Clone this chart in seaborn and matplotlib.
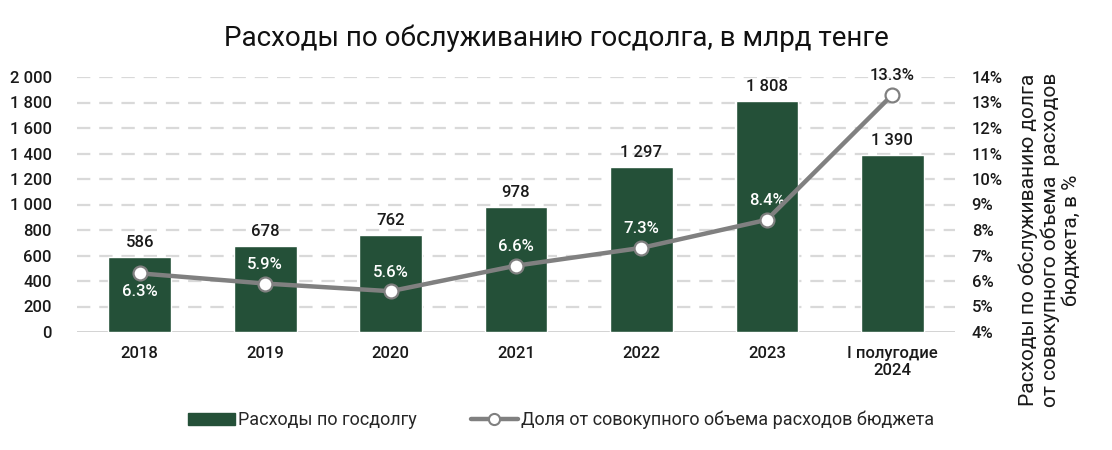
import numpy as np
import pandas as pd
import matplotlib
matplotlib.use("Agg")
import matplotlib.pyplot as plt
import seaborn as sns
from matplotlib.lines import Line2D
from matplotlib.patches import Patch

categories = ["2018", "2019", "2020", "2021", "2022", "2023", "I полугодие\n2024"]
spending = [586, 678, 762, 978, 1297, 1808, 1390]
share_pct = [6.3, 5.9, 5.6, 6.6, 7.3, 8.4, 13.3]
spending_labels = ["586", "678", "762", "978", "1 297", "1 808", "1 390"]
left_ticks = [0, 200, 400, 600, 800, 1000, 1200, 1400, 1600, 1800, 2000]
left_tick_labels = ["0", "200", "400", "600", "800", "1 000", "1 200", "1 400", "1 600", "1 800", "2 000"]
right_ticks = [4, 5, 6, 7, 8, 9, 10, 11, 12, 13, 14]

sns.set_theme(style="white")
plt.rcParams['font.family'] = ['Roboto', 'DejaVu Sans']

BAR = "#245038"
LINE = "#808080"

fig = plt.figure(figsize=(11.12, 4.5), dpi=100)
ax = fig.add_axes([77/1112, 1 - 332/450, (955-77)/1112, (332-77)/450])

df = pd.DataFrame({"cat": categories, "val": spending})
sns.barplot(data=df, x="cat", y="val", color=BAR, width=0.5, ax=ax, saturation=1, zorder=2)
ax.set_xlim(-0.5, 6.5)
ax.set_ylim(0, 2000)
ax.set_yticks(left_ticks)
ax.set_yticklabels(left_tick_labels)
ax.set_xlabel("")
ax.set_ylabel("")
for t in left_ticks[1:]:
    ax.axhline(t, color="#d9d9d9", lw=1.6, ls=(0, (6, 4)), zorder=0)
ax.axhline(0, color="#d0d0d0", lw=1.3, zorder=1)
for s in ax.spines.values():
    s.set_visible(False)
ax.tick_params(axis="y", length=0, pad=18, labelsize=12, labelcolor="#1a1a1a")
ax.tick_params(axis="x", length=0, pad=10, labelsize=12, labelcolor="#1a1a1a")
for lab in ax.get_yticklabels():
    lab.set_fontweight("medium")
for lab in ax.get_xticklabels():
    lab.set_fontweight("medium")

for i, v in enumerate(spending):
    ax.text(i, v + 55, spending_labels[i], ha="center", va="bottom", fontsize=12,
            fontweight="medium", color="#1a1a1a")

ax2 = ax.twinx()
sns.lineplot(x=np.arange(len(share_pct)), y=share_pct, ax=ax2, color=LINE, lw=3.2,
             marker="o", markersize=10, markerfacecolor="white", markeredgecolor=LINE,
             markeredgewidth=1.6, zorder=5)
ax2.set_ylim(4, 14)
ax2.set_yticks(right_ticks)
ax2.set_yticklabels([f"{t}%" for t in right_ticks])
ax2.tick_params(axis="y", length=0, pad=12, labelsize=12, labelcolor="#1a1a1a")
for lab in ax2.get_yticklabels():
    lab.set_fontweight("medium")
for s in ax2.spines.values():
    s.set_visible(False)
ax2.set_xlim(-0.5, 6.5)

for i, p in enumerate(share_pct):
    lbl = f"{p}%"
    if i == 0:
        ax2.text(i, p - 0.4, lbl, ha="center", va="top", fontsize=12, color="white", fontweight="medium")
    elif i == len(share_pct) - 1:
        ax2.text(i, p + 0.45, lbl, ha="center", va="bottom", fontsize=12, color="#1a1a1a", fontweight="medium")
    else:
        ax2.text(i, p + 0.45, lbl, ha="center", va="bottom", fontsize=12, color="white", fontweight="medium")

fig.text(1050/1112, 1 - 240/450,
         "Расходы по обслуживанию долга\nот совокупного объема  расходов\nбюджета, в %",
         rotation=90, ha="center", va="center", multialignment="center",
         fontsize=15, color="#1a1a1a", linespacing=1.15)

fig.text(556/1112, 1 - 38/450, "Расходы по обслуживанию госдолга, в млрд тенге",
         ha="center", va="center", fontsize=20, color="#111111", fontweight="normal")

handles = [Patch(facecolor=BAR, edgecolor=BAR),
           Line2D([0], [0], color=LINE, lw=3.2, marker="o", markersize=8,
                  markerfacecolor="white", markeredgecolor=LINE, markeredgewidth=1.5)]
fig.legend(handles, ["Расходы по госдолгу", "Доля от совокупного объема расходов бюджета"],
           loc="center", bbox_to_anchor=(561/1112, 1 - 420/450), ncol=2, frameon=False,
           fontsize=13, handlelength=2.6, handletextpad=0.15, columnspacing=3.0)

fig.savefig("out.png", dpi=100)
